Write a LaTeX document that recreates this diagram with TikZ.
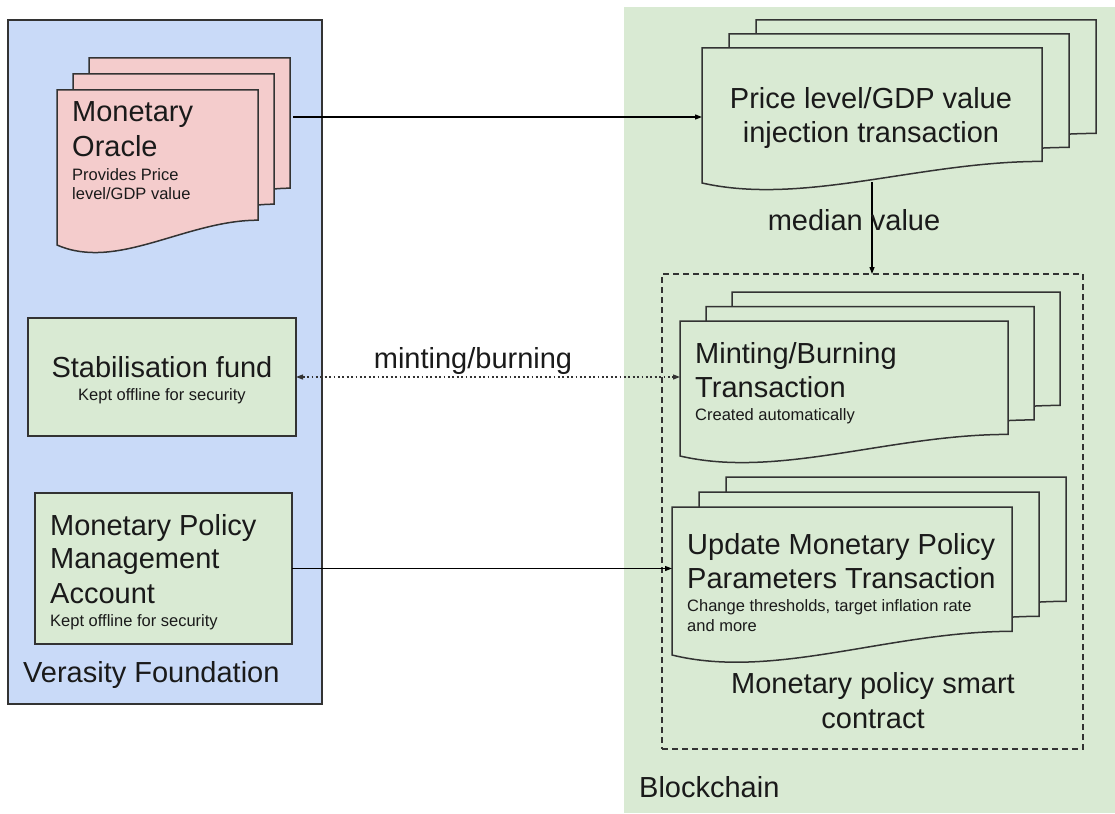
\documentclass[tikz,border=0pt]{standalone}
\usepackage{fontspec}
\setmainfont{Liberation Sans}
\usetikzlibrary{arrows.meta,calc}

\definecolor{foundationblue}{HTML}{C9DAF8}
\definecolor{chaingreen}{HTML}{D9EAD3}
\definecolor{oraclepink}{HTML}{F4CCCC}
\definecolor{edgegray}{HTML}{333333}
\definecolor{inkgray}{HTML}{1A1A1A}

\newcommand{\hdfont}{\fontsize{29}{34}\selectfont}
\newcommand{\smfont}{\fontsize{16.5}{20}\selectfont}

% one sheet of a document stack: left, top, width, height, fill
\newcommand{\docpage}[5]{%
  \filldraw[pageline, fill=#5] (#1,#2) -- ({#1+#3},#2) -- ({#1+#3},{#2+0.84*#4})
    .. controls ({#1+0.64*#3},{#2+0.84*#4}) and ({#1+0.3*#3},{#2+1.17*#4}) .. (#1,{#2+#4}) -- cycle;}

\tikzset{
  pageline/.style={draw=edgegray, line width=1.5pt, line join=miter},
  panelbox/.style={anchor=north west, inner sep=0pt, outer sep=0pt},
  docbox/.style={anchor=north west, inner sep=0pt, outer sep=0pt, draw=none},
  hd/.style={font=\hdfont, text=inkgray, inner sep=0pt},
  sm/.style={font=\smfont, text=inkgray, inner sep=0pt},
  tip/.style={-{Triangle[length=7pt,width=5pt]}},
  conn/.style={draw=black, line width=1.2pt},
  dotconn/.style={draw=edgegray, line width=1.2pt, dash pattern=on 1.8pt off 2.6pt,
    {Triangle[length=7pt,width=5pt]}-{Triangle[length=7pt,width=5pt]}},
}

\begin{document}
\begin{tikzpicture}[x=1pt, y=-1pt]
\useasboundingbox (0,0) rectangle (1115,813);

% ---- background panels ----
\node[panelbox, fill=foundationblue, draw=edgegray, line width=1.5pt,
      minimum width=314, minimum height=684] (foundation) at (8,20) {};
\node[panelbox, fill=chaingreen, minimum width=491, minimum height=806] (chain) at (624,7) {};

% ---- smart contract frame ----
\node[panelbox, draw=edgegray, line width=1.4pt, dash pattern=on 6pt off 4pt,
      minimum width=421, minimum height=475] (contract) at (662,274) {};

% ---- monetary oracle stack ----
\docpage{89}{58}{201}{155}{oraclepink}
\docpage{73}{74}{201}{155}{oraclepink}
\docpage{57}{90}{201}{155}{oraclepink}
\node[docbox, minimum width=201, minimum height=130] (oracleDoc) at (57,90) {};

% ---- price injection stack ----
\docpage{756}{20}{340}{135}{chaingreen}
\docpage{729}{34}{340}{135}{chaingreen}
\docpage{702}{48}{340}{135}{chaingreen}
\node[docbox, minimum width=340, minimum height=113.4] (priceDoc) at (702,48) {};

% ---- minting / burning stack ----
\docpage{732}{292}{328}{135}{chaingreen}
\docpage{706}{306.5}{328}{135}{chaingreen}
\docpage{680}{321}{328}{135}{chaingreen}
\node[docbox, minimum width=328, minimum height=113.4] (mintDoc) at (680,321) {};

% ---- policy update stack ----
\docpage{726}{477}{340}{148}{chaingreen}
\docpage{699}{492}{340}{148}{chaingreen}
\docpage{672}{507}{340}{148}{chaingreen}
\node[docbox, minimum width=340, minimum height=124.3] (updateDoc) at (672,507) {};

% ---- foundation accounts ----
\node[panelbox, fill=chaingreen, draw=edgegray, line width=1.5pt,
      minimum width=268, minimum height=118] (stab) at (28,318) {};
\node[panelbox, fill=chaingreen, draw=edgegray, line width=1.5pt,
      minimum width=257, minimum height=151] (mpm) at (35,493) {};

% ---- connectors ----
\coordinate (oracleOut) at (293,117);
\coordinate (priceWave) at (872,182);
\draw[conn, tip] (oracleOut) -- (oracleOut -| priceDoc.west);
\draw[conn, tip] (priceWave) -- (priceWave |- contract.north);
\draw[dotconn] (stab.east) -- (stab.east -| mintDoc.west);
\draw[conn, tip] (mpm.east) -- (mpm.east -| updateDoc.west);

% ---- texts ----
\node[hd, anchor=base west] (oracleT1) at (72,122) {Monetary};
\node[hd, anchor=base west] (oracleT2) at (72,157) {Oracle};
\node[sm, anchor=base west] (oracleS1) at (72,181) {Provides Price};
\node[sm, anchor=base west] (oracleS2) at (72,200) {level/GDP value};

\node[hd, anchor=base] (priceT1) at (871,109) {Price level/GDP value};
\node[hd, anchor=base] (priceT2) at (871,143) {injection transaction};

\node[hd, anchor=base] (medianL) at (854,230) {median value};

\node[hd, anchor=base west] (mintT1) at (695,363) {Minting/Burning};
\node[hd, anchor=base west] (mintT2) at (695,397) {Transaction};
\node[sm, anchor=base west] (mintS1) at (695,420) {Created automatically};

\node[hd, anchor=base west] (updT1) at (687,554) {Update Monetary Policy};
\node[hd, anchor=base west] (updT2) at (687,588) {Parameters Transaction};
\node[sm, anchor=base west] (updS1) at (687,611) {Change thresholds, target inflation rate};
\node[sm, anchor=base west] (updS2) at (687,631) {and more};

\node[hd, anchor=base] (contractT1) at (873,693) {Monetary policy smart};
\node[hd, anchor=base] (contractT2) at (873,728) {contract};

\node[hd, anchor=base west] (chainT) at (639,797) {Blockchain};

\node[hd, anchor=base] (stabT) at (162,377) {Stabilisation fund};
\node[sm, anchor=base] (stabS) at (162,400) {Kept offline for security};

\node[hd, anchor=base west] (mpmT1) at (50,535) {Monetary Policy};
\node[hd, anchor=base west] (mpmT2) at (50,568) {Management};
\node[hd, anchor=base west] (mpmT3) at (50,603) {Account};
\node[sm, anchor=base west] (mpmS) at (50,626) {Kept offline for security};

\node[hd, anchor=base west] (foundationT) at (23,682) {Verasity Foundation};

\node[hd, anchor=base] (mintL) at (473,368) {minting/burning};
\end{tikzpicture}
\end{document}
